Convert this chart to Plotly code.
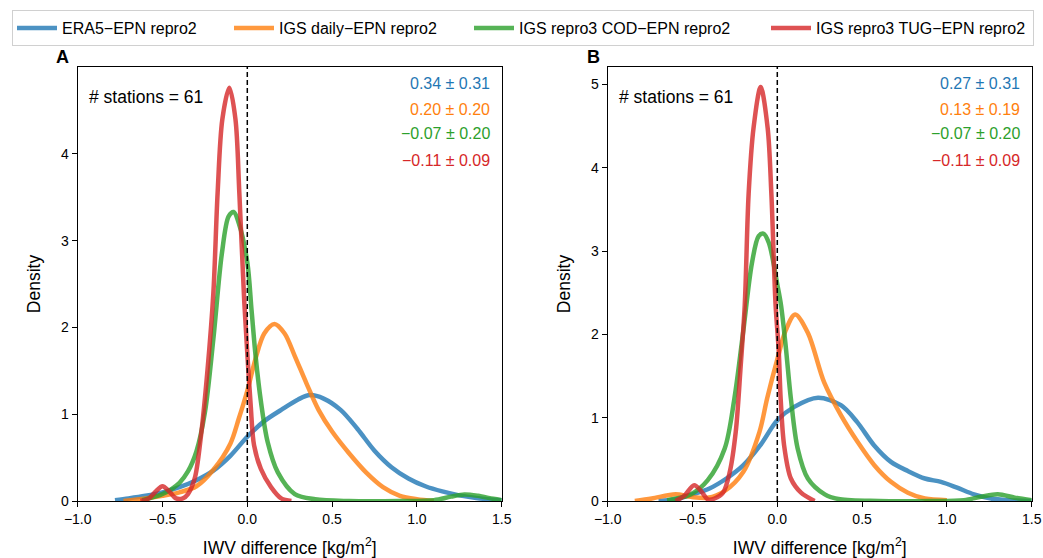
import plotly.graph_objects as go

W, H = 1043, 558

# ---------------- data ----------------
series_names = ["ERA5\u2212EPN repro2", "IGS daily\u2212EPN repro2",
                "IGS repro3 COD\u2212EPN repro2", "IGS repro3 TUG\u2212EPN repro2"]
colors = ["#1f77b4", "#ff7f0e", "#2ca02c", "#d62728"]

# Panel A
a_blue_x = [-0.78, -0.7, -0.6, -0.5, -0.4, -0.3, -0.2, -0.1, 0.0, 0.1, 0.2, 0.3, 0.37, 0.45, 0.55, 0.65, 0.75, 0.85, 0.95, 1.05, 1.15, 1.25, 1.35, 1.45, 1.5]
a_blue_y = [0.01, 0.03, 0.06, 0.1, 0.16, 0.24, 0.35, 0.52, 0.74, 0.92, 1.05, 1.17, 1.22, 1.18, 1.05, 0.83, 0.58, 0.39, 0.26, 0.17, 0.11, 0.065, 0.035, 0.015, 0.01]
a_orange_x = [-0.73, -0.6, -0.5, -0.4, -0.3, -0.2, -0.1, -0.05, 0.0, 0.05, 0.1, 0.16, 0.22, 0.28, 0.35, 0.42, 0.5, 0.6, 0.7, 0.8, 0.9, 1.0, 1.1]
a_orange_y = [0.0, 0.03, 0.06, 0.1, 0.17, 0.36, 0.66, 0.95, 1.27, 1.65, 1.93, 2.04, 1.93, 1.67, 1.35, 1.05, 0.8, 0.55, 0.33, 0.16, 0.06, 0.02, 0.0]
a_green_x = [-0.62, -0.5, -0.4, -0.35, -0.3, -0.25, -0.2, -0.15, -0.11, -0.08, -0.05, 0.0, 0.025, 0.05, 0.08, 0.12, 0.18, 0.28, 0.4, 0.6, 0.9, 1.1, 1.2, 1.28, 1.36, 1.45, 1.5]
a_green_y = [0.01, 0.08, 0.21, 0.34, 0.57, 1.02, 1.87, 2.85, 3.28, 3.33, 3.2, 2.75, 2.2, 1.65, 1.15, 0.68, 0.33, 0.08, 0.02, 0.0, 0.0, 0.01, 0.05, 0.075, 0.06, 0.025, 0.01]
a_red_x = [-0.63, -0.58, -0.54, -0.5, -0.46, -0.42, -0.38, -0.35, -0.31, -0.275, -0.235, -0.2, -0.175, -0.147, -0.106, -0.07, -0.047, -0.018, 0.0, 0.02, 0.04, 0.08, 0.14, 0.2, 0.26]
a_red_y = [0.0, 0.03, 0.11, 0.17, 0.11, 0.03, 0.03, 0.08, 0.26, 0.72, 1.5, 2.4, 3.55, 4.4, 4.76, 4.4, 3.55, 2.3, 1.7, 1.1, 0.64, 0.37, 0.16, 0.03, 0.0]

# Panel B
b_blue_x = [-0.7, -0.6, -0.5, -0.4, -0.3, -0.2, -0.1, 0.0, 0.1, 0.24, 0.375, 0.47, 0.57, 0.67, 0.77, 0.87, 0.965, 1.06, 1.16, 1.26, 1.36, 1.5]
b_blue_y = [0.0, 0.02, 0.08, 0.15, 0.27, 0.43, 0.67, 0.97, 1.13, 1.24, 1.15, 0.95, 0.67, 0.47, 0.36, 0.27, 0.23, 0.16, 0.08, 0.03, 0.01, 0.0]
b_orange_x = [-0.84, -0.74, -0.6, -0.51, -0.41, -0.31, -0.2, -0.105, -0.06, 0.0, 0.05, 0.105, 0.18, 0.277, 0.375, 0.473, 0.572, 0.67, 0.77, 0.87, 1.0]
b_orange_y = [0.0, 0.03, 0.08, 0.05, 0.04, 0.12, 0.35, 0.83, 1.23, 1.7, 2.05, 2.24, 2.02, 1.42, 1.03, 0.71, 0.43, 0.23, 0.1, 0.03, 0.01]
b_green_x = [-0.65, -0.51, -0.41, -0.31, -0.253, -0.2, -0.15, -0.11, -0.082, -0.05, 0.0, 0.022, 0.05, 0.08, 0.12, 0.18, 0.28, 0.37, 0.6, 0.9, 1.1, 1.2, 1.3, 1.4, 1.5]
b_green_y = [0.01, 0.08, 0.25, 0.63, 1.23, 2.05, 2.85, 3.18, 3.21, 3.1, 2.6, 2.35, 1.85, 1.23, 0.63, 0.27, 0.08, 0.02, 0.0, 0.0, 0.01, 0.05, 0.08, 0.04, 0.01]
b_red_x = [-0.6, -0.55, -0.49, -0.45, -0.41, -0.37, -0.32, -0.28, -0.245, -0.216, -0.192, -0.169, -0.14, -0.098, -0.057, -0.035, -0.01, 0.008, 0.02, 0.04, 0.08, 0.14, 0.22]
b_red_y = [0.0, 0.06, 0.19, 0.12, 0.02, 0.03, 0.1, 0.35, 0.83, 1.62, 2.35, 3.69, 4.48, 4.97, 4.48, 3.69, 2.35, 1.82, 1.22, 0.67, 0.27, 0.1, 0.0]

stats_a = ["0.34 \u00b1 0.31", "0.20 \u00b1 0.20", "\u22120.07 \u00b1 0.20", "\u22120.11 \u00b1 0.09"]
stats_b = ["0.27 \u00b1 0.31", "0.13 \u00b1 0.19", "\u22120.07 \u00b1 0.20", "\u22120.11 \u00b1 0.09"]
n_stations = 61
x_ticks = [-1.0, -0.5, 0.0, 0.5, 1.0, 1.5]
x_ticklabels = ["\u22121.0", "\u22120.5", "0.0", "0.5", "1.0", "1.5"]
y_ticks_a = [0, 1, 2, 3, 4]
y_ticks_b = [0, 1, 2, 3, 4, 5]

panel_a = [(a_blue_x, a_blue_y), (a_orange_x, a_orange_y), (a_green_x, a_green_y), (a_red_x, a_red_y)]
panel_b = [(b_blue_x, b_blue_y), (b_orange_x, b_orange_y), (b_green_x, b_green_y), (b_red_x, b_red_y)]
legend_widths = [162, 185, 242, 212]

FONT = "Liberation Sans, Arial, Helvetica, sans-serif"

fig = go.Figure()
for i, (xs, ys) in enumerate(panel_a):
    fig.add_trace(go.Scatter(x=xs, y=ys, mode="lines", name=series_names[i],
                             line=dict(color=colors[i], width=4.5, shape="spline", smoothing=0.9),
                             opacity=0.8, xaxis="x", yaxis="y", legendgroup=str(i),
                             legendwidth=legend_widths[i]))
for i, (xs, ys) in enumerate(panel_b):
    fig.add_trace(go.Scatter(x=xs, y=ys, mode="lines", name=series_names[i],
                             line=dict(color=colors[i], width=4.5, shape="spline", smoothing=0.9),
                             opacity=0.8, xaxis="x2", yaxis="y2", legendgroup=str(i), showlegend=False))

def px_x(p):
    return p / W

def px_y(p):
    return 1 - p / H

axis_common = dict(showline=True, linecolor="black", linewidth=1, mirror=True,
                   ticks="outside", ticklen=5, tickwidth=1, tickcolor="black",
                   showgrid=False, zeroline=False, automargin=False,
                   tickfont=dict(family=FONT, size=14, color="black"))

fig.update_layout(
    width=W, height=H,
    margin=dict(l=0, r=0, t=0, b=0, autoexpand=False),
    paper_bgcolor="white", plot_bgcolor="white",
    font=dict(family=FONT, color="black"),
    xaxis=dict(domain=[px_x(77.7), px_x(501.7)], range=[-1, 1.5], anchor="y",
               tickvals=x_ticks, ticktext=x_ticklabels,
               title=dict(text="IWV difference [kg/m<sup>2</sup>]", font=dict(size=17.5)),
               **axis_common),
    yaxis=dict(domain=[px_y(501), px_y(67)], range=[0, 5.0], anchor="x",
               tickvals=y_ticks_a,
               title=dict(text="Density", font=dict(size=17.5)),
               **axis_common),
    xaxis2=dict(domain=[px_x(607.7), px_x(1031.7)], range=[-1, 1.5], anchor="y2",
                tickvals=x_ticks, ticktext=x_ticklabels,
                title=dict(text="IWV difference [kg/m<sup>2</sup>]", font=dict(size=17.5)),
                **axis_common),
    yaxis2=dict(domain=[px_y(501), px_y(67)], range=[0, 5.21], anchor="x2",
                tickvals=y_ticks_b,
                title=dict(text="Density", font=dict(size=17.5)),
                **axis_common),
    legend=dict(orientation="h", x=px_x(12), xanchor="left", y=px_y(10), yanchor="top",
                bordercolor="#d0d0d0", borderwidth=1, bgcolor="white",
                font=dict(family=FONT, size=16, color="black"),
                itemwidth=40, tracegroupgap=0),
    showlegend=True,
)

# vertical dashed zero lines
for xr, yr in (("x", "y domain"), ("x2", "y2 domain")):
    fig.add_shape(type="line", x0=0, x1=0, y0=0, y1=1, xref=xr, yref=yr,
                  line=dict(color="black", width=1.5, dash="5px,3px"), layer="above")

annotations = []
# panel letters
annotations.append(dict(text="<b>A</b>", x=px_x(62), y=px_y(57), xref="paper", yref="paper",
                        showarrow=False, font=dict(size=18, family=FONT), xanchor="center", yanchor="middle"))
annotations.append(dict(text="<b>B</b>", x=px_x(593), y=px_y(57), xref="paper", yref="paper",
                        showarrow=False, font=dict(size=18, family=FONT), xanchor="center", yanchor="middle"))
# station count
for xl in (87, 617):
    annotations.append(dict(text=f"# stations = {n_stations}", x=px_x(xl), y=px_y(97), xref="paper", yref="paper",
                            showarrow=False, font=dict(size=17.5, family=FONT), xanchor="left", yanchor="middle"))
# stats
row_y = [83, 109, 134, 160]
for xr, stats in ((492, stats_a), (1022, stats_b)):
    for i, s in enumerate(stats):
        annotations.append(dict(text=s, x=px_x(xr), y=px_y(row_y[i]), xref="paper", yref="paper",
                                showarrow=False, font=dict(size=16, family=FONT, color=colors[i]),
                                xanchor="right", yanchor="middle"))
fig.update_layout(annotations=annotations)

fig.write_html("out.html", config={"displayModeBar": False},
               post_script="document.body.style.margin='0px';")
